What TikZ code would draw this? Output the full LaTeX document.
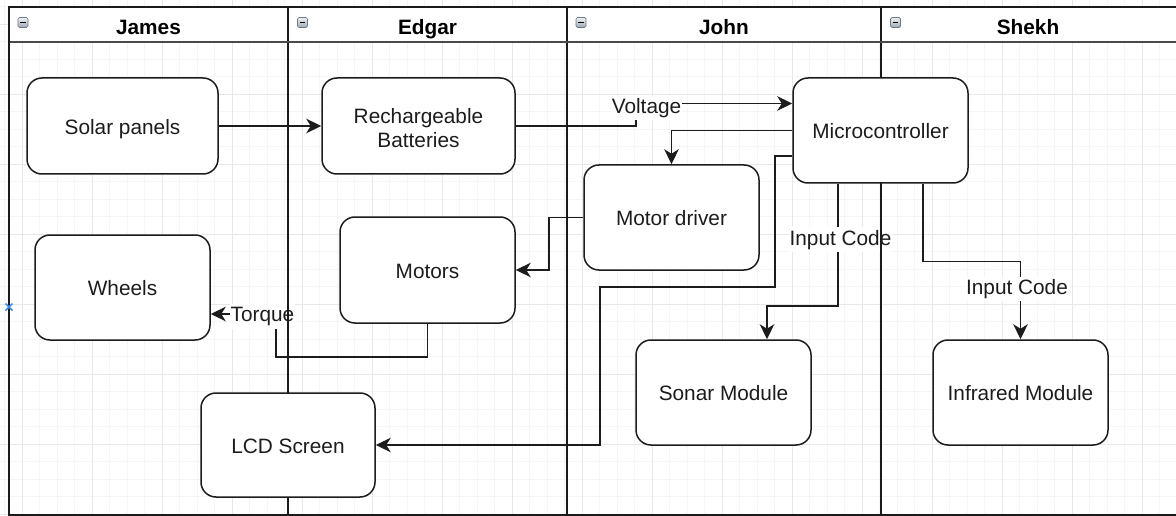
\documentclass[tikz,border=0pt]{standalone}
\usepackage{fontspec}
\setmainfont{Liberation Sans}
\usetikzlibrary{arrows.meta}

\definecolor{gridminor}{HTML}{F5F5F5}
\definecolor{gridmajor}{HTML}{E8E8E8}
\definecolor{ink}{HTML}{1C1C1C}
\definecolor{laneline}{HTML}{1A1A1A}
\definecolor{headline}{HTML}{4A4A4A}
\definecolor{iconedge}{HTML}{6E7882}
\definecolor{icontop}{HTML}{EEF1F4}
\definecolor{iconbot}{HTML}{9EA7B0}
\definecolor{markblue}{HTML}{3A8EEA}

\newcommand\lblfont{\fontsize{20.8}{25}\selectfont}

\pgfdeclarelayer{canvas}
\pgfdeclarelayer{wires}
\pgfsetlayers{canvas,wires,main}

\begin{document}
\begin{tikzpicture}[x=1pt,y=-1pt,
  box/.style={draw=ink, line width=1.5pt, rounded corners=15pt, fill=white,
    minimum width=175pt, minimum height=105pt, inner sep=0pt,
    align=center, font=\lblfont, text=ink},
  oneline/.style={text height=16.8pt, text depth=0pt},
  flow/.style={draw=ink, line width=1.5pt,
    -{Stealth[length=15pt,width=14.5pt,inset=4.5pt]}},
  tag/.style={fill=white, font=\lblfont, text=ink, inner xsep=1pt, inner ysep=2pt,
    text height=15.6pt, text depth=5.2pt},
  lane/.style={draw=laneline, line width=2pt},
  head/.style={font=\lblfont\bfseries, text=black, inner sep=0pt,
    text height=15.6pt, text depth=5.2pt},
  fold/.style={draw=iconedge, line width=0.7pt, rounded corners=1.5pt,
    top color=icontop, bottom color=iconbot}
]
\useasboundingbox (0,0) rectangle (1176,516);

% process boxes
\node[box, oneline, minimum width=191pt, minimum height=96pt] (solar) at (122.5,126) {Solar panels};
\node[box, minimum width=193pt, minimum height=96pt] (batt) at (418.5,126)
  {\rule{0pt}{19pt}Rechargeable\\[-1pt]Batteries};
\node[box, oneline] (wheels) at (122.5,287.5) {Wheels};
\node[box, oneline, minimum height=106pt] (motors) at (427.5,270) {Motors};
\node[box, oneline] (micro) at (880.5,130.5) {Microcontroller};
\node[box, oneline] (driver) at (671.5,217.5) {Motor driver};
\node[box, oneline] (sonar) at (723.5,392.5) {Sonar Module};
\node[box, oneline] (infra) at (1020.5,392.5) {Infrared Module};
\node[box, oneline, minimum width=174pt, minimum height=104pt] (lcd) at (288,445) {LCD Screen};

% background grid: minor lines every 17.5, major every 70
\begin{pgfonlayer}{canvas}
\foreach \k in {-1,...,66}
  \draw[gridminor, line width=1pt] ({22.3+17.5*\k},0) -- ++(0,516);
\foreach \k in {-1,...,28}
  \draw[gridminor, line width=1pt] (0,{24.3+17.5*\k}) -- ++(1176,0);
\foreach \k in {0,...,16}
  \draw[gridmajor, line width=1pt] ({22.3+70*\k},0) -- ++(0,516);
\foreach \k in {0,...,7}
  \draw[gridmajor, line width=1pt] (0,{24.3+70*\k}) -- ++(1176,0);
% header band of the pool
\fill[white] (8.5,7) rectangle (1180,42);
\end{pgfonlayer}

\begin{pgfonlayer}{wires}
% connectors
\draw[flow] (solar.east) -- (batt.west);
\draw[flow] (batt.east) -| (636,103.5) -- (micro.west |- 0,103.5);
\draw[flow] (micro.west) -| (driver.north);
\draw[flow] (driver.west) -- (549,217.5) |- (motors.east);
\draw[flow] (motors.south) -- (427.5,357) -| (276,314) -- (wheels.east |- 0,314);
\draw[flow] (micro.west |- 0,156) -- (775,156) |- (600,287) |- (lcd.east);
\draw[flow] (micro.south -| 838,0) -- (838,306) -| (sonar.north -| 767,0);
\draw[flow] (micro.south -| 923,0) -- (923,261.5) -| (infra.north);

% connector labels
\node[tag] (lvolt) at (646.5,108) {Voltage};
\node[tag] (ltorque) at (262.5,316.5) {Torque};
\node[tag] (lcode1) at (840.5,239.8) {Input Code};
\node[tag] (lcode2) at (1017,289) {Input Code};

% pool frame, lane separators and header rule
\draw[lane] (287.7,7) -- (287.7,514.5);
\draw[lane] (567,7) -- (567,514.5);
\draw[lane] (881,7) -- (881,514.5);
\draw[headline, line width=1.8pt] (8.5,42) -- (1180,42);
\draw[lane] (1180,7) -- (8.5,7) -- (8.5,514.5) -- (1180,514.5);
\end{pgfonlayer}

% lane titles
\node[head] (hjames) at (148.5,29) {James};
\node[head] (hedgar) at (427.5,29) {Edgar};
\node[head] (hjohn) at (724,29) {John};
\node[head] (hshekh) at (1028,29) {Shekh};

% collapse buttons
\foreach \x in {18,297.5,576,890.5} {
  \draw[fold] (\x,17.5) rectangle ++(10,10);
  \draw[black, line width=1.4pt] (\x+2.3,22.5) -- ++(5.4,0);
}

% small selection marker on the left border
\draw[markblue, line width=1.6pt] (5.5,303.5) -- (12.5,310.5) (5.5,310.5) -- (12.5,303.5);
\end{tikzpicture}
\end{document}
